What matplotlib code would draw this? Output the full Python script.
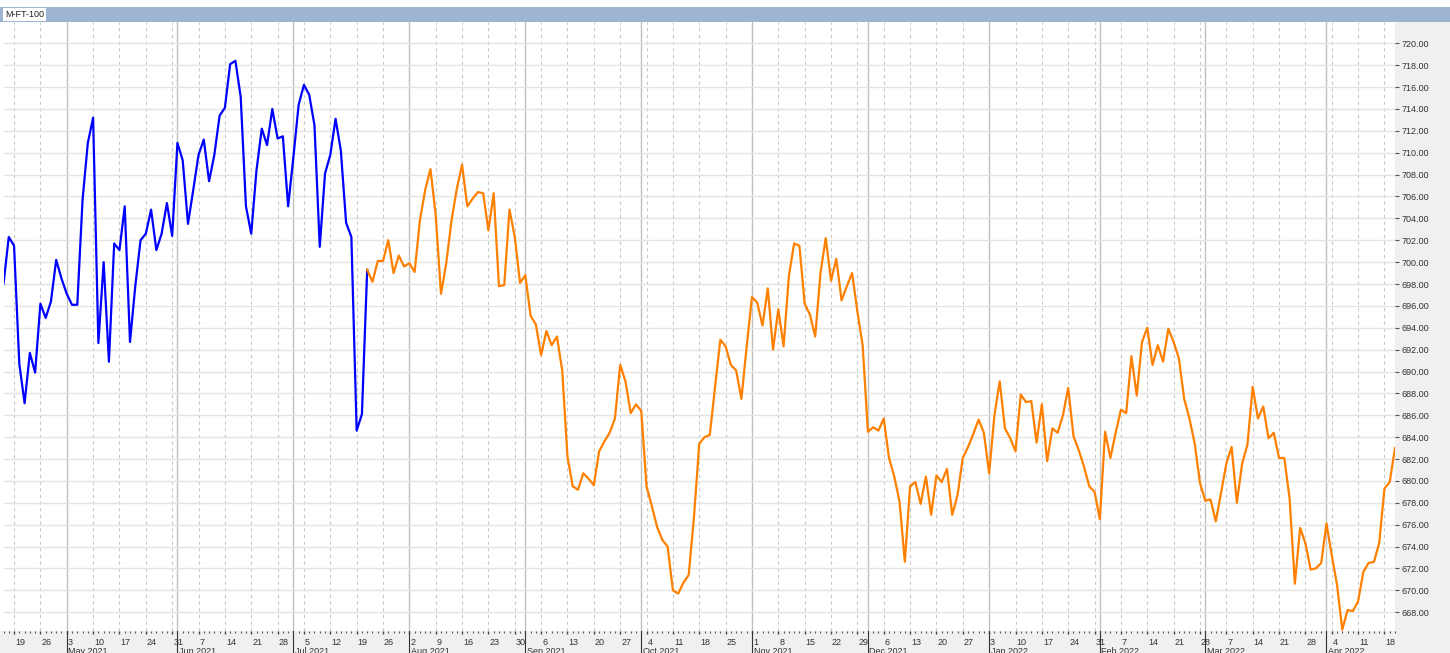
import numpy as np
import pandas as pd
import matplotlib
matplotlib.use("Agg")
import matplotlib.pyplot as plt
import matplotlib.transforms as mtransforms
from matplotlib.patches import Rectangle

# Data (one value per trading day, starting 15 Apr 2021)
start_date = "2021-04-15"
blue_vals = [
    698.0, 702.3, 701.5, 690.7, 687.1, 691.7, 689.9, 696.2, 694.9, 696.4,
    700.2, 698.5, 697.1, 696.1, 696.1, 705.7, 710.9, 713.2, 692.6, 700.0,
    690.9, 701.7, 701.1, 705.1, 692.7, 697.8, 702.0, 702.6, 704.8, 701.1,
    702.6, 705.4, 702.4, 710.9, 709.3, 703.5, 706.6, 709.8, 711.2, 707.4,
    709.8, 713.4, 714.1, 718.1, 718.4, 715.1, 705.1, 702.6, 708.4, 712.2,
    710.7, 714.0, 711.3, 711.5, 705.1, 709.6, 714.4, 716.2, 715.3, 712.5,
    701.4, 708.1, 709.8, 713.1, 710.2, 703.6, 702.3, 684.6, 686.1, 699.3,
]
orange_vals = [
    699.3, 698.2, 700.1, 700.1, 702.0, 699.0, 700.6, 699.6, 699.9, 699.1,
    703.8, 706.6, 708.5, 704.3, 697.1, 699.9, 703.8, 706.7, 708.9, 705.1,
    705.8, 706.4, 706.3, 702.9, 706.3, 697.8, 697.9, 704.8, 702.3, 698.1,
    698.8, 695.1, 694.3, 691.5, 693.7, 692.4, 693.2, 690.1, 682.2, 679.5,
    679.2, 680.7, 680.2, 679.6, 682.7, 683.6, 684.4, 685.7, 690.6, 689.1,
    686.2, 687.0, 686.4, 679.5, 677.7, 675.8, 674.6, 674.0, 670.0, 669.7,
    670.7, 671.4, 676.7, 683.4, 684.0, 684.2, 688.6, 692.9, 692.3, 690.6,
    690.1, 687.5, 692.3, 696.8, 696.3, 694.2, 697.6, 692.0, 695.7, 692.3,
    698.7, 701.7, 701.5, 696.2, 695.2, 693.2, 699.0, 702.2, 698.3, 700.3,
    696.5, 697.8, 699.0, 695.5, 692.4, 684.5, 684.9, 684.6, 685.7, 682.1,
    680.4, 678.1, 672.6, 679.5, 679.9, 677.9, 680.4, 676.9, 680.5, 679.9,
    681.1, 676.9, 678.7, 682.1, 683.1, 684.3, 685.6, 684.4, 680.7, 686.0,
    689.1, 684.8, 683.9, 682.7, 687.9, 687.2, 687.3, 683.5, 687.0, 681.8,
    684.8, 684.4, 686.0, 688.5, 684.1, 682.8, 681.3, 679.5, 679.0, 676.5,
    684.5, 682.1, 684.4, 686.5, 686.2, 691.4, 687.8, 692.7, 694.0, 690.6,
    692.4, 690.9, 693.9, 692.7, 691.2, 687.5, 685.7, 683.4, 679.8, 678.2,
    678.3, 676.3, 678.9, 681.6, 683.1, 678.0, 681.6, 683.3, 688.6, 685.7,
    686.8, 683.9, 684.4, 682.1, 682.1, 678.4, 670.6, 675.7, 674.3, 671.9,
    672.0, 672.5, 676.1, 673.2, 670.5, 666.4, 668.2, 668.1, 669.0, 671.7,
    672.5, 672.6, 674.3, 679.3, 679.9, 683.0,
]
y_ticks = np.arange(668, 721, 2)
title = "M-FT-100"

n = len(blue_vals) + len(orange_vals) - 1
dates = pd.bdate_range(start_date, periods=n)
x = np.arange(n)
x_blue = x[:len(blue_vals)]
x_orange = x[len(blue_vals) - 1:]

W, H = 1450, 653
fig = plt.figure(figsize=(W / 100, H / 100), dpi=100, facecolor="#F0F0F0")
plt.rcParams["font.family"] = ["Liberation Sans", "DejaVu Sans"]

# white top margin, title strip, white left margin
fig.patches.append(Rectangle((0, 1 - 7 / H), 1, 7 / H, transform=fig.transFigure,
                             facecolor="white", edgecolor="none", zorder=0))
fig.patches.append(Rectangle((0, 1 - 22 / H), 1, 15 / H, transform=fig.transFigure,
                             facecolor="#9DB5D3", edgecolor="none", zorder=0))
fig.patches.append(Rectangle((0, 22 / H), 3.5 / W, 609 / H, transform=fig.transFigure,
                             facecolor="white", edgecolor="none", zorder=0))
fig.text(5 / W, 1 - 14.5 / H, title, fontsize=6.5, va="center", ha="left", color="#222",
         bbox=dict(facecolor="white", edgecolor="none", pad=1.2))

ax = fig.add_axes([3.5 / W, 22 / H, (1395 - 3.5) / W, 609 / H])
ax.set_facecolor("white")
for s in ax.spines.values():
    s.set_visible(False)

# vertical grid: weekly dashed, monthly solid
mondays = [i for i, d in enumerate(dates) if d.weekday() == 0]
month_starts = [i for i in range(1, n) if dates[i].month != dates[i - 1].month]
for i in mondays:
    if i not in month_starts:
        ax.axvline(i, color="#C8C8C8", lw=0.8, ls=(0, (3, 3)), zorder=1)
for i in month_starts:
    ax.axvline(i, color="#C0C0C0", lw=1.0, zorder=1)

ax.plot(x_blue, blue_vals, color="#0000FF", lw=1.6, zorder=3)
ax.plot(x_orange, orange_vals, color="#FF8000", lw=1.6, zorder=3)

ax.set_xlim(0.54, 263.33)
ax.set_ylim(666.28, 721.95)

# y axis on the right
ax.yaxis.tick_right()
ax.set_yticks(y_ticks)
ax.set_yticklabels([f"{v:.2f}" for v in y_ticks])
ax.tick_params(axis="y", length=3, width=0.8, color="#555", pad=2,
               labelsize=6.5, labelcolor="#333")
ax.grid(axis="y", color="#E4E4E4", lw=1, zorder=0)

# x axis: weekly labels, daily dots
ax.set_xticks(mondays)
ax.set_xticklabels([str(dates[i].day) for i in mondays], ha="left")
ax.set_xticks(x, minor=True)
ax.tick_params(axis="x", which="major", length=2.5, width=1, color="#444", pad=2.5,
               labelsize=6.5, labelcolor="#333")
ax.tick_params(axis="x", which="minor", length=1.5, width=0.8, color="#555")
offset = mtransforms.ScaledTranslation(1 / 100, 0, fig.dpi_scale_trans)
for lab in ax.get_xticklabels():
    lab.set_transform(lab.get_transform() + offset)

# month markers in the bottom strip
trans = mtransforms.blended_transform_factory(ax.transData, ax.transAxes)
for i in month_starts:
    if i < ax.get_xlim()[0]:
        continue
    ax.plot([i, i], [0, -0.04], transform=trans, color="#333", lw=0.8, clip_on=False)
    ax.text(i + 0.3, -0.026, dates[i].strftime("%b %Y"), transform=trans, fontsize=6.5,
            color="#333", ha="left", va="top", clip_on=False)

fig.savefig("out.png", dpi=100, facecolor=fig.get_facecolor())
